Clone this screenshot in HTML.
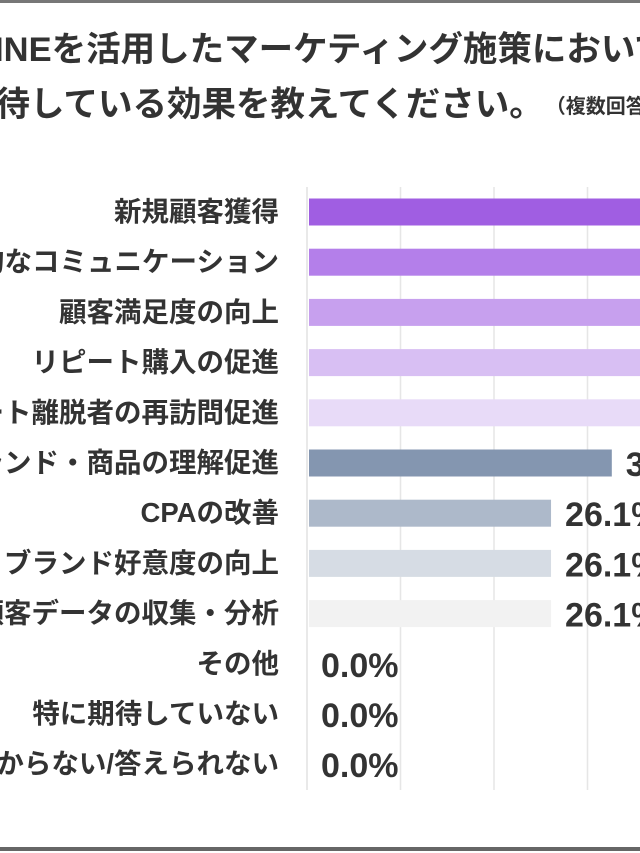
<!DOCTYPE html>
<html><head><meta charset="utf-8">
<style>
html,body{margin:0;padding:0;background:#fff;width:640px;height:853px;overflow:hidden}
svg{display:block;font-family:"Liberation Sans","Noto Sans CJK JP",sans-serif}
</style></head>
<body>
<svg id="chart" width="640" height="853" viewBox="0 0 640 853">
<rect x="0" y="0" width="640" height="3" fill="#777"/>
<rect x="0" y="847" width="640" height="4" fill="#666"/>
<text x="-27" y="61" font-size="34.5" font-weight="bold" fill="#333">LINEを活用したマーケティング施策において</text>
<text x="-39" y="116" font-size="34.5" font-weight="bold" fill="#333">期待している効果を教えてください。<tspan font-size="20" dx="12" dy="-3">（複数回答）</tspan></text>
<g id="grid"></g>
<g id="bars"></g>
</svg>
<script>
const categories = ["新規顧客獲得","継続的なコミュニケーション","顧客満足度の向上","リピート購入の促進","カート離脱者の再訪問促進","ブランド・商品の理解促進","CPAの改善","ブランド好意度の向上","顧客データの収集・分析","その他","特に期待していない","わからない/答えられない"];
const values = [60.9,52.2,43.5,39.1,37.0,32.6,26.1,26.1,26.1,0.0,0.0,0.0];
const valueLabels = ["60.9%","52.2%","43.5%","39.1%","37.0%","32.6%","26.1%","26.1%","26.1%","0.0%","0.0%","0.0%"];
const colors = ["#a05ee2","#b47fea","#c7a0ee","#d8bff3","#e8dbf8","#8496b0","#adb9ca","#d6dce4","#f2f2f2","#ccc","#ccc","#ccc"];
const gridTicks = [0,10,20,30];

const NS="http://www.w3.org/2000/svg";
const x0=307, pxPer=9.35, rowTop=212, rowStep=50.2, barH=27;
const xs=v=>x0+v*pxPer;
const ys=i=>rowTop+i*rowStep;
const grid=document.getElementById('grid');
gridTicks.forEach(t=>{
  const l=document.createElementNS(NS,'line');
  
  
  l.setAttribute('x1',xs(t));l.setAttribute('x2',xs(t));
  l.setAttribute('y1',187);l.setAttribute('y2',790);
  l.setAttribute('stroke',t===0?'#e2e2e2':'#e6e6e6');l.setAttribute('stroke-width',1.5);
  grid.appendChild(l);
});
const g=document.getElementById('bars');
categories.forEach((c,i)=>{
  const cy=ys(i);
  const lab=document.createElementNS(NS,'text');
  
  
  lab.setAttribute('x',279);lab.setAttribute('y',cy+9);
  lab.setAttribute('text-anchor','end');lab.setAttribute('font-size',27.5);
  lab.setAttribute('font-weight','bold');lab.setAttribute('fill','#333');
  lab.textContent=c;g.appendChild(lab);
  if(values[i]>0){
    const r=document.createElementNS(NS,'rect');
    
    
    r.setAttribute('x',xs(0)+2);r.setAttribute('y',cy-barH/2);
    r.setAttribute('width',xs(values[i])-xs(0)-2);r.setAttribute('height',barH);
    r.setAttribute('fill',colors[i]);g.appendChild(r);
  }
  const v=document.createElementNS(NS,'text');
  
  
  v.setAttribute('x',xs(values[i])+14);v.setAttribute('y',cy+13);
  v.setAttribute('font-size',34);v.setAttribute('font-weight','bold');v.setAttribute('fill','#333');
  v.textContent=valueLabels[i];g.appendChild(v);
});
</script>
</body></html>
